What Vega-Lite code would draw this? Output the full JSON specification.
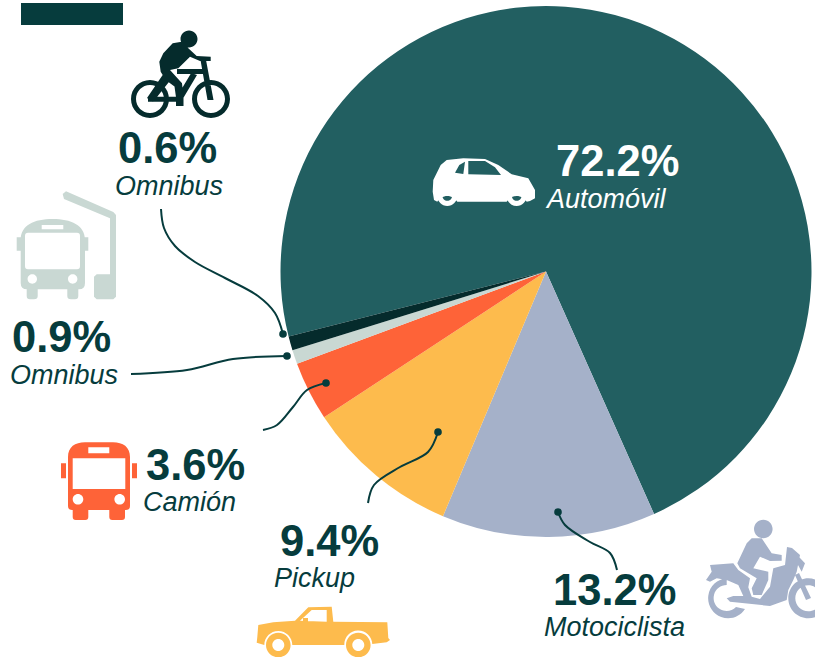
{
"$schema":"https://vega.github.io/schema/vega-lite/v6.json",
"width":815,"height":657,"padding":0,"autosize":{"type":"none"},
"background":"white",
"config":{"view":{"stroke":null},"text":{"font":"Liberation Sans"}},
"datasets":{
"sectores":[
{"serie":"Automóvil","pct":72.2,"orden":1},
{"serie":"Motociclista","pct":13.0,"orden":2},
{"serie":"Pickup","pct":9.4,"orden":3},
{"serie":"Camión","pct":3.6,"orden":4},
{"serie":"Omnibus","pct":0.85,"orden":5},
{"serie":"Omnibus (bici)","pct":0.85,"orden":6}],
"titulo":[{"x":21,"x2":123,"y":3,"y2":25}],
"cifras":[
{"t":"72.2%","x":556,"y":176,"tono":"claro"},
{"t":"13.2%","x":553,"y":605,"tono":"oscuro"},
{"t":"9.4%","x":280,"y":556,"tono":"oscuro"},
{"t":"3.6%","x":146,"y":480,"tono":"oscuro"},
{"t":"0.9%","x":12,"y":352,"tono":"oscuro"},
{"t":"0.6%","x":118,"y":163,"tono":"oscuro"}],
"nombres":[
{"t":"Automóvil","x":547,"y":208,"tono":"claro"},
{"t":"Motociclista","x":544,"y":636,"tono":"oscuro"},
{"t":"Pickup","x":274,"y":587,"tono":"oscuro"},
{"t":"Camión","x":143,"y":511,"tono":"oscuro"},
{"t":"Omnibus","x":10,"y":384,"tono":"oscuro"},
{"t":"Omnibus","x":115,"y":195,"tono":"oscuro"}],
"lineas":[
{"l":"bici","o":1,"x":161,"y":209},{"l":"bici","o":2,"x":164,"y":228},{"l":"bici","o":3,"x":175,"y":246},{"l":"bici","o":4,"x":195,"y":262},{"l":"bici","o":5,"x":225,"y":278},{"l":"bici","o":6,"x":258,"y":296},{"l":"bici","o":7,"x":275,"y":313},{"l":"bici","o":8,"x":283,"y":334},
{"l":"omni","o":1,"x":131,"y":374},{"l":"omni","o":2,"x":187,"y":370},{"l":"omni","o":3,"x":233,"y":359},{"l":"omni","o":4,"x":287,"y":356},
{"l":"cam","o":1,"x":263,"y":430},{"l":"cam","o":2,"x":277,"y":425},{"l":"cam","o":3,"x":293,"y":407},{"l":"cam","o":4,"x":307,"y":390},{"l":"cam","o":5,"x":326,"y":383},
{"l":"pick","o":1,"x":368,"y":503},{"l":"pick","o":2,"x":374,"y":485},{"l":"pick","o":3,"x":400,"y":467},{"l":"pick","o":4,"x":428,"y":452},{"l":"pick","o":5,"x":438,"y":432},
{"l":"moto","o":1,"x":558,"y":512},{"l":"moto","o":2,"x":565,"y":525},{"l":"moto","o":3,"x":590,"y":542},{"l":"moto","o":4,"x":610,"y":553},{"l":"moto","o":5,"x":617,"y":570}],
"puntos":[{"x":283,"y":334},{"x":287,"y":356},{"x":326,"y":383},{"x":438,"y":432},{"x":558,"y":512}],
"iconos":[
{"icono":"bici","x":181,"y":80},
{"icono":"parada","x":64,"y":250},
{"icono":"camion","x":97,"y":481},
{"icono":"auto","x":484,"y":181},
{"icono":"moto","x":760,"y":580},
{"icono":"pickup","x":323,"y":630}]
},
"encoding":{
"x":{"type":"quantitative","scale":{"domain":[0,815],"nice":false,"zero":false},"axis":null},
"y":{"type":"quantitative","scale":{"domain":[657,0],"nice":false,"zero":false},"axis":null}
},
"resolve":{"scale":{"color":"independent","shape":"independent"}},
"layer":[
{"data":{"name":"sectores"},
 "mark":{"type":"arc","outerRadius":265.5},
 "encoding":{
  "x":{"datum":546,"type":"quantitative"},
  "y":{"datum":271.5,"type":"quantitative"},
  "theta":{"field":"pct","type":"quantitative","stack":true,"scale":{"range":[-1.8186,4.4646]}},
  "order":{"field":"orden"},
  "color":{"field":"serie","type":"nominal","legend":null,"scale":{"domain":["Automóvil","Motociclista","Pickup","Camión","Omnibus","Omnibus (bici)"],"range":["#225f61","#a5b1c9","#fdbb4d","#fe6338","#c9d8d3","#052b2c"]}}
 }},
{"data":{"name":"titulo"},
 "mark":{"type":"rect","color":"#063c3d"},
 "encoding":{"x":{"field":"x","type":"quantitative"},"x2":{"field":"x2"},"y":{"field":"y","type":"quantitative"},"y2":{"field":"y2"}}},
{"data":{"name":"lineas"},
 "mark":{"type":"line","color":"#063c3d","strokeWidth":2,"interpolate":"catmull-rom"},
 "encoding":{"x":{"field":"x","type":"quantitative"},"y":{"field":"y","type":"quantitative"},"detail":{"field":"l"},"order":{"field":"o"}}},
{"data":{"name":"puntos"},
 "mark":{"type":"circle","color":"#063c3d","opacity":1,"size":58},
 "encoding":{"x":{"field":"x","type":"quantitative"},"y":{"field":"y","type":"quantitative"}}},
{"data":{"name":"iconos"},
 "mark":{"type":"point","filled":true,"opacity":1,"size":4,"strokeWidth":0},
 "encoding":{
  "x":{"field":"x","type":"quantitative"},"y":{"field":"y","type":"quantitative"},
  "color":{"field":"icono","type":"nominal","legend":null,"scale":{"domain":["bici","parada","camion","auto","moto","pickup"],"range":["#052b2c","#c9d8d3","#fe6338","#ffffff","#a5b1c9","#fdbb4d"]}},
  "shape":{"field":"icono","type":"nominal","legend":null,"scale":{"domain":["bici","parada","camion","auto","moto","pickup"],"range":[
"M-50 19A19 19 0 1 1 -12 19A19 19 0 1 1 -50 19ZM-45 19A14 14 0 1 0 -17 19A14 14 0 1 0 -45 19ZM11 19A19 19 0 1 1 49 19A19 19 0 1 1 11 19ZM16 19A14 14 0 1 0 44 19A14 14 0 1 0 16 19ZM-0.5 -41A8.5 8.5 0 1 1 16.5 -41A8.5 8.5 0 1 1 -0.5 -41ZM0.7 -38.3L7.3 -31.7L15.7 -24L29.7 -23.3L29.7 -19L19 -19L9 -23.3L-2.7 -11.7L-11 -10L1 3.3L2.5 17.3L-5 17.3L-6.5 6.5L-15.3 0L-20.3 -8.3L-21.7 -18.3L-17.7 -26.7L-8.3 -36.7ZM-4 -11L24 -11L24 -6L-4 -6ZM19.5 -20L25 -20L32.5 20L26.5 20ZM10.2 -7L16 -5L2 18.5L-3 15ZM-33 16.7L-1 16.7L-1 21.7L-33 21.7ZM-18 -5.5L-10.5 0L-28 22L-34 18ZM-5 17L2.5 17L2.5 26L-5 26Z",
"M-43.3 -10C-43.3 -25 -30 -31 -11.3 -31C7 -31 21 -25 21 -10L21 33Q21 39.3 15 39.3L-37 39.3Q-43.3 39.3 -43.3 33ZM-47.3 -12.7L-43 -12.7L-43 0.7L-47.3 0.7ZM20.7 -12.7L24.3 -12.7L24.3 0.7L20.7 0.7ZM-37.3 38L-26.3 38L-26.3 46Q-26.3 49.3 -30 49.3L-34 49.3Q-37.3 49.3 -37.3 46ZM3.3 38L14.3 38L14.3 46Q14.3 49.3 11 49.3L7 49.3Q3.3 49.3 3.3 46ZM-39 -14L-39 16Q-39 19.3 -36 19.3L13 19.3Q16 19.3 16 16L16 -14Q16 -17.3 13 -17.3L-36 -17.3Q-39 -17.3 -39 -14ZM-22.3 -25L-22.3 -20.7L-0.7 -20.7L-0.7 -25ZM-36.4 29A4.7 4.7 0 1 0 -27 29A4.7 4.7 0 1 0 -36.4 29ZM4 29A4.7 4.7 0 1 0 13.4 29A4.7 4.7 0 1 0 4 29ZM2 -58.7L49.3 -38L52 -35L52 46.7L49.3 49.3L32.7 49.3L30 46.7L30 26.7L32.7 24.3L46 24.3L46 -31.7L0 -51L-1.3 -56Z",
"M-29 -24C-29 -34 -22 -38.7 -12 -38.7L16 -38.7C26 -38.7 33 -34 33 -24L33 25Q33 29 29 29L-25 29Q-29 29 -29 25ZM-24.3 28L-8.7 28L-8.7 36Q-8.7 39 -11.7 39L-21.3 39Q-24.3 39 -24.3 36ZM12.3 28L28 28L28 36Q28 39 25 39L15.3 39Q12.3 39 12.3 36ZM-36 -17.7L-31 -17.7L-31 -2.7L-36 -2.7ZM35 -17.7L40 -17.7L40 -2.7L35 -2.7ZM-24.3 -22.7L-24.3 8L28.3 8L28.3 -22.7ZM-8.7 -33.7L-8.7 -27.7L12.3 -27.7L12.3 -33.7ZM-24.3 18.3A5.3 5.3 0 1 0 -13.7 18.3A5.3 5.3 0 1 0 -24.3 18.3ZM17.4 18.3A5.3 5.3 0 1 0 28 18.3A5.3 5.3 0 1 0 17.4 18.3Z",
"M-50.7 -1L-43.3 -16L-37.3 -21L-20.7 -22.7L1 -22L14.3 -16L27.7 -6.7L44.3 -2.7L51 9L51 17.3L46 20L42.7 20.7A11.5 11.5 0 0 0 22.7 20.7L-26.7 20.7A11.5 11.5 0 0 0 -46.7 20.7L-50 19L-51.3 10.7ZM-19 -19.3L-24.7 -16L-29 -8.3L-20.7 -7ZM-15.7 -20L-15.7 -6.7L17 -6L11 -13.7L1 -20ZM-46.7 15A10 10 0 1 1 -26.7 15A10 10 0 1 1 -46.7 15ZM-41.5 15A4.8 4.8 0 1 0 -31.9 15A4.8 4.8 0 1 0 -41.5 15ZM22.7 15A10 10 0 1 1 42.7 15A10 10 0 1 1 22.7 15ZM27.9 15A4.8 4.8 0 1 0 37.5 15A4.8 4.8 0 1 0 27.9 15Z",
"M-6 -51A9.3 9.3 0 1 1 12.6 -51A9.3 9.3 0 1 1 -6 -51ZM-8.3 -41.7L1.7 -41.7L11.7 -26.7L21.7 -25L21.7 -19.3L10 -19L0 -23.3L-6.7 -11.7L8.3 -8.3L8.3 0L1.7 15L-6.7 15L-8.3 8.3L-3.3 -1.7L-20 -11.7L-22.7 -16.7L-13.3 -36.7ZM-50 -15L-26.7 -16.7L-21.7 -10L-10 -1.7L-11.7 7.3L-8.3 16.7L0 19L10 6.7L13.3 -11.7L25 -15L27 -33L32 -32L40 -25L36.7 -8.3L33.3 0L28.3 10L26.7 20L10 26L-30 21.7L-33.3 18.3L-26.7 16L-16.7 16L-21.7 5L-33.3 0L-43.3 -1.7L-50 1.7L-54 0L-48.3 -8.3ZM-15 29A20 20 0 1 1 -33.3 -1.7L-33.3 5A13 13 0 1 0 -24 27ZM28.3 18.3A20 20 0 1 1 68.3 18.3A20 20 0 1 1 28.3 18.3ZM35.3 18.3A13 13 0 1 0 61.3 18.3A13 13 0 1 0 35.3 18.3ZM39.3 -22.7L45 -16.7L41.7 -8.3L38 -15ZM35 -5L39 -7L51 18L46 20Z",
"M-64.7 -5L-49.7 -7.7L-28 -9.3L-14.7 -22.7L8.7 -23.3L10.3 -8.3L64.3 -7.7L65.3 8L67 10L63.7 12.3L49.3 14A14 14 0 0 0 21.3 15L-30.7 15A14 14 0 0 0 -58.7 15L-66.3 12.7L-65.7 7ZM-11.3 -20L-23 -9.3L3.7 -8.3L3.7 -20ZM-20 -12L-15 -12L-15 -8.3L-20 -8.3ZM-57 15A12.3 12.3 0 1 1 -32.4 15A12.3 12.3 0 1 1 -57 15ZM-50.7 15A6 6 0 1 0 -38.7 15A6 6 0 1 0 -50.7 15ZM23 15A12.3 12.3 0 1 1 47.6 15A12.3 12.3 0 1 1 23 15ZM29.3 15A6 6 0 1 0 41.3 15A6 6 0 1 0 29.3 15Z"
]}}
 }},
{"data":{"name":"cifras"},
 "mark":{"type":"text","font":"Liberation Sans","fontWeight":"bold","fontSize":43.5,"align":"left","baseline":"alphabetic"},
 "encoding":{"x":{"field":"x","type":"quantitative"},"y":{"field":"y","type":"quantitative"},"text":{"field":"t"},
  "color":{"field":"tono","type":"nominal","legend":null,"scale":{"domain":["claro","oscuro"],"range":["#ffffff","#063c3d"]}}}},
{"data":{"name":"nombres"},
 "mark":{"type":"text","font":"Liberation Sans","fontStyle":"italic","fontSize":27,"align":"left","baseline":"alphabetic"},
 "encoding":{"x":{"field":"x","type":"quantitative"},"y":{"field":"y","type":"quantitative"},"text":{"field":"t"},
  "color":{"field":"tono","type":"nominal","legend":null,"scale":{"domain":["claro","oscuro"],"range":["#ffffff","#063c3d"]}}}}
]
}
